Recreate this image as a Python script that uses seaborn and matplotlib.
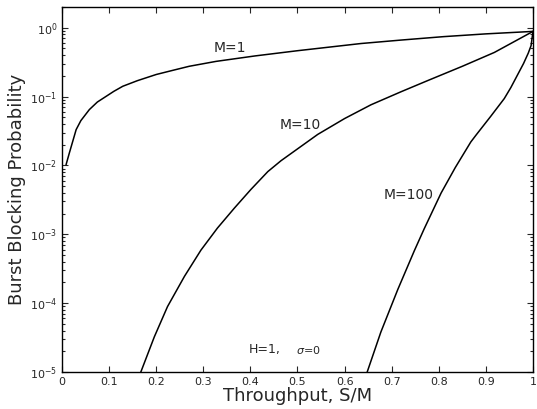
import matplotlib
matplotlib.use("Agg")
import matplotlib.pyplot as plt
import seaborn as sns
import pandas as pd
from matplotlib.ticker import LogLocator, FixedLocator, FixedFormatter

# Throughput S/M and burst blocking probability for each burst size M
m1_x = [0.0085, 0.0155, 0.03, 0.04, 0.058, 0.075, 0.093, 0.11, 0.129, 0.16, 0.2, 0.235,
        0.27, 0.327, 0.41, 0.5, 0.635, 0.72, 0.81, 0.9, 1.0]
m1_p = [0.0102, 0.0151, 0.0331, 0.0447, 0.0646, 0.0832, 0.1, 0.119, 0.141, 0.170, 0.209,
        0.240, 0.275, 0.324, 0.389, 0.463, 0.589, 0.661, 0.741, 0.813, 0.883]

m10_x = [0.165, 0.169, 0.196, 0.224, 0.26, 0.295, 0.33, 0.366, 0.401, 0.437, 0.465,
         0.543, 0.6, 0.656, 0.72, 0.776, 0.85, 0.918, 1.0]
m10_p = [9.1e-6, 1.07e-5, 3.24e-5, 8.91e-5, 2.45e-4, 5.89e-4, 1.23e-3, 2.40e-3, 4.47e-3,
         8.13e-3, 1.17e-2, 2.82e-2, 4.79e-2, 7.59e-2, 0.1175, 0.170, 0.275, 0.437, 0.883]

m100_x = [0.645, 0.648, 0.677, 0.713, 0.748, 0.769, 0.805, 0.835, 0.868, 0.879, 0.91,
          0.939, 0.953, 0.98, 0.99, 0.996, 1.0]
m100_p = [8.0e-6, 1.0e-5, 3.80e-5, 1.58e-4, 5.75e-4, 1.20e-3, 3.98e-3, 9.3e-3, 2.19e-2,
          2.75e-2, 5.13e-2, 9.33e-2, 0.135, 0.302, 0.427, 0.550, 0.883]

x_ticks = [0, 0.1, 0.2, 0.3, 0.4, 0.5, 0.6, 0.7, 0.8, 0.9, 1.0]
x_tick_labels = ["0", "0.1", "0.2", "0.3", "0.4", "0.5", "0.6", "0.7", "0.8", "0.9", "1"]

curve_labels = ["M=1", "M=10", "M=100"]
label_pos = [(0.357, 0.5), (0.505, 0.038), (0.735, 0.0037)]

frames = []
for name, xs, ps in [("M=1", m1_x, m1_p), ("M=10", m10_x, m10_p), ("M=100", m100_x, m100_p)]:
    frames.append(pd.DataFrame({"throughput": xs, "blocking": ps, "burst": name}))
df = pd.concat(frames, ignore_index=True)

sns.set_style("ticks")
plt.rcParams["font.family"] = ["DejaVu Sans"]

fig = plt.figure(figsize=(5.37, 4.09), dpi=100)
ax = fig.add_axes([0.1155, 0.0905, 0.877, 0.8925])

sns.lineplot(data=df, x="throughput", y="blocking", units="burst", estimator=None,
             color="black", linewidth=1.1, sort=False, ax=ax, legend=False)

ax.set_yscale("log")
ax.set_xlim(0, 1)
ax.set_ylim(1e-5, 2.0)

ax.xaxis.set_major_locator(FixedLocator(x_ticks))
ax.xaxis.set_major_formatter(FixedFormatter(x_tick_labels))
ax.yaxis.set_major_locator(LogLocator(base=10, numticks=10))
ax.yaxis.set_minor_locator(LogLocator(base=10, subs=range(2, 10), numticks=20))

ax.tick_params(which="both", direction="in", top=True, right=True, labelsize=8, width=0.8)
ax.tick_params(which="major", length=4)
ax.tick_params(which="minor", length=2)
for s in ax.spines.values():
    s.set_linewidth(1.0)
    s.set_color("black")

for txt, (px, py) in zip(curve_labels, label_pos):
    ax.text(px, py, txt, fontsize=10, ha="center", va="center")

ax.text(0.397, 2.1e-5, "H=1,", fontsize=9, ha="left", va="center")
ax.text(0.497, 2.1e-5, r"$\sigma$=0", fontsize=8, ha="left", va="center")

ax.set_xlabel("Throughput, S/M", fontsize=13, labelpad=0)
ax.set_ylabel("Burst Blocking Probability", fontsize=13, labelpad=3)

fig.savefig("out.png", dpi=100)
